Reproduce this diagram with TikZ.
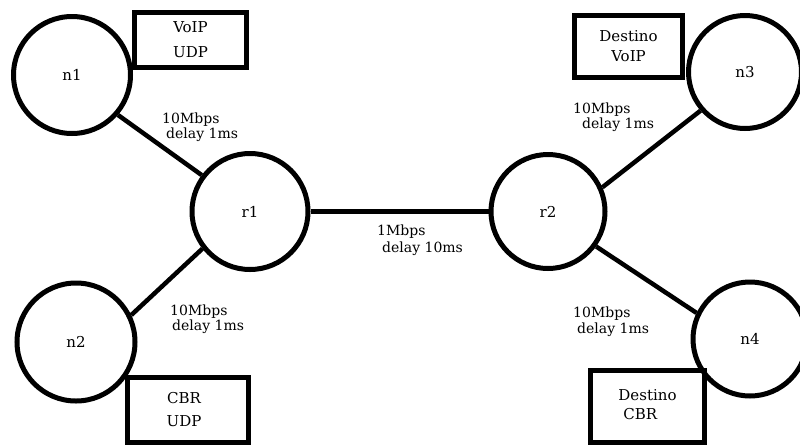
\documentclass[tikz,border=0pt]{standalone}
\usepackage{fontspec}
\setmainfont{DejaVu Serif}
\begin{document}
\begin{tikzpicture}[x=1pt,y=-1pt,
  netnode/.style={draw, circle, line width=5pt, inner sep=0pt, font=\fontsize{15}{17}\selectfont},
  infobox/.style={draw, rectangle, line width=5pt, inner sep=0pt, align=center},
  link/.style={line width=4.5pt},
  lbl/.style={font=\fontsize{14}{16}\selectfont, anchor=base west, inner sep=0pt}]
\useasboundingbox (0,0) rectangle (800,445);
\clip (0,0) rectangle (800,445);
% network nodes
\node[netnode, minimum size=117pt] (n1) at (72,75) {n1};
\node[netnode, minimum size=116pt] (r1) at (250,211.5) {r1};
\node[netnode, minimum size=118pt] (n2) at (76,342) {n2};
\node[netnode, minimum size=114pt] (r2) at (548,211.5) {r2};
\node[netnode, minimum size=113pt] (n3) at (745,72) {n3};
\node[netnode, minimum size=114pt] (n4) at (750,339) {n4};
% info boxes
\node[infobox, minimum width=112pt, minimum height=55pt, font=\fontsize{15}{25}\selectfont] (b1) at (190.5,40) {VoIP\\UDP};
\node[infobox, minimum width=121pt, minimum height=65pt, font=\fontsize{15}{23}\selectfont] (b2) at (188,410) {\hspace*{-8pt}CBR\\\hspace*{-8pt}UDP};
\node[infobox, minimum width=108pt, minimum height=62pt, font=\fontsize{15}{20}\selectfont] (b3) at (628.5,46.5) {Destino\\VoIP};
\node[infobox, minimum width=114pt, minimum height=72pt, font=\fontsize{15}{19}\selectfont] (b4) at (647.5,406.5) {\begin{tabular}{@{}l@{}}Destino\\[0pt]\hspace*{5pt}CBR\end{tabular}};
% links
\draw[link] (n1.-41) -- (r1.143);
\draw[link] (n2.26) -- (r1.218);
\draw[link] (r1.east) -- (r2.west);
\draw[link] (r2.24) -- (n3.221);
\draw[link] (r2.-36) -- (n4.154);
% link labels
\node[lbl] (l1a) at (162,123) {10Mbps};
\node[lbl] (l1b) at (166,138) {delay 1ms};
\node[lbl] (l2a) at (170,315) {10Mbps};
\node[lbl] (l2b) at (172,330) {delay 1ms};
\node[lbl] (l3a) at (377,235) {1Mbps};
\node[lbl] (l3b) at (382,252) {delay 10ms};
\node[lbl] (l4a) at (573,113) {10Mbps};
\node[lbl] (l4b) at (582,128) {delay 1ms};
\node[lbl] (l5a) at (573,317) {10Mbps};
\node[lbl] (l5b) at (577,333) {delay 1ms};
\end{tikzpicture}
\end{document}
